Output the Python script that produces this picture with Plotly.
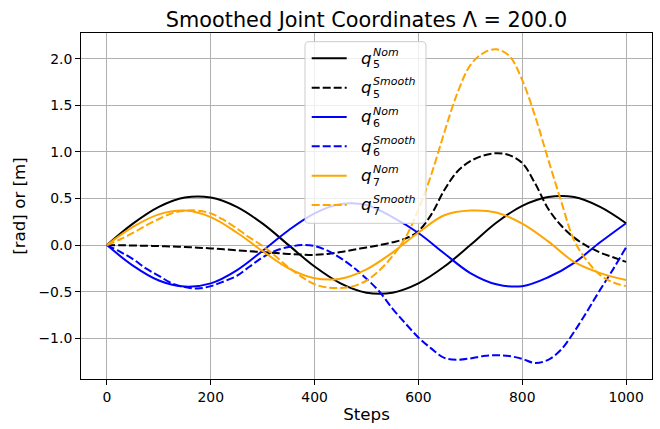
import plotly.graph_objects as go

# Step index of each sample (nominal curves on a coarse grid, smoothed ones on a finer grid)
steps = [0, 50, 100, 150, 200, 250, 300, 350, 400, 450, 500,
         550, 600, 650, 700, 750, 800, 850, 900, 950, 1000]
steps_fine = [0, 25, 50, 75, 100, 125, 150, 175, 200, 225, 250, 275, 300, 325, 350, 375,
              400, 425, 450, 475, 500, 525, 550, 575, 600, 625, 650, 675, 700, 725, 750,
              775, 800, 825, 850, 875, 900, 925, 950, 975, 1000]

# Joint 5
q5_nom = [0.0, 0.23, 0.41, 0.51, 0.51, 0.41, 0.23, 0.0, -0.23, -0.41, -0.51,
          -0.51, -0.41, -0.23, 0.0, 0.24, 0.42, 0.515, 0.515, 0.41, 0.235]
q5_smooth = [0.0, -0.001, -0.004, -0.007, -0.01, -0.015, -0.02, -0.027, -0.035, -0.045,
             -0.055, -0.065, -0.075, -0.085, -0.095, -0.102, -0.105, -0.095, -0.075, -0.05,
             -0.025, 0.0, 0.03, 0.07, 0.15, 0.33, 0.59, 0.79, 0.90, 0.96, 0.985,
             0.965, 0.88, 0.66, 0.39, 0.21, 0.08, -0.01, -0.08, -0.13, -0.18]

# Joint 6
q6_nom = [0.0, -0.22, -0.38, -0.445, -0.41, -0.27, -0.06, 0.16, 0.34, 0.44, 0.43,
          0.30, 0.13, -0.09, -0.30, -0.42, -0.44, -0.345, -0.19, 0.03, 0.235]
q6_smooth = [0.0, -0.07, -0.15, -0.25, -0.33, -0.41, -0.45, -0.465, -0.44, -0.39,
             -0.33, -0.23, -0.13, -0.06, -0.02, 0.0, -0.01, -0.06, -0.14, -0.24,
             -0.36, -0.50, -0.68, -0.84, -0.99, -1.11, -1.21, -1.23, -1.215, -1.19, -1.18,
             -1.19, -1.22, -1.265, -1.23, -1.12, -0.93, -0.71, -0.48, -0.26, -0.025]

# Joint 7
q7_nom = [0.0, 0.195, 0.33, 0.37, 0.30, 0.135, -0.065, -0.25, -0.355, -0.36, -0.26,
          -0.08, 0.135, 0.32, 0.37, 0.35, 0.23, 0.04, -0.18, -0.30, -0.375]
q7_smooth = [0.0, 0.06, 0.13, 0.21, 0.28, 0.34, 0.37, 0.37, 0.34, 0.27,
             0.18, 0.08, -0.01, -0.12, -0.24, -0.34, -0.42, -0.455, -0.46, -0.44,
             -0.38, -0.27, -0.12, 0.08, 0.38, 0.76, 1.21, 1.63, 1.93, 2.06, 2.10,
             2.03, 1.77, 1.38, 0.92, 0.47, 0.05, -0.17, -0.32, -0.40, -0.44]

x_ticks = [0, 200, 400, 600, 800, 1000]
y_ticks = [-1.0, -0.5, 0.0, 0.5, 1.0, 1.5, 2.0]

series = [
    (steps, q5_nom, "black", "solid", "5", "Nom"),
    (steps_fine, q5_smooth, "black", "8px,3px", "5", "Smooth"),
    (steps, q6_nom, "blue", "solid", "6", "Nom"),
    (steps_fine, q6_smooth, "blue", "8px,3px", "6", "Smooth"),
    (steps, q7_nom, "orange", "solid", "7", "Nom"),
    (steps_fine, q7_smooth, "orange", "8px,3px", "7", "Smooth"),
]

W, H = 660, 429
ML, MR, MT, MB = 81, 8, 33, 50
X0, X1 = ML, W - MR
Y0, Y1 = MT, H - MB
FONT = "DejaVu Sans"


def fx(p):
    return (p - X0) / (X1 - X0)


def fy(p):
    return (Y1 - p) / (Y1 - Y0)


fig = go.Figure()
for xs, vals, color, dash, idx, kind in series:
    fig.add_trace(go.Scatter(
        x=xs, y=vals, mode="lines", name=f"q{idx} {kind}",
        line=dict(color=color, width=2, dash=dash, shape="spline"),
        showlegend=False, hoverinfo="skip"))


# Legend frame with rounded corners
def rounded_box(xa, ya, xb, yb, r):
    pts = [("M", xa + r, ya), ("L", xb - r, ya), ("Q", xb, ya, xb, ya + r),
           ("L", xb, yb - r), ("Q", xb, yb, xb - r, yb), ("L", xa + r, yb),
           ("Q", xa, yb, xa, yb - r), ("L", xa, ya + r), ("Q", xa, ya, xa + r, ya)]
    out = []
    for p in pts:
        cmd, coords = p[0], p[1:]
        xy = []
        for i in range(0, len(coords), 2):
            xy.append(f"{fx(coords[i]):.5f},{fy(coords[i + 1]):.5f}")
        out.append(cmd + " " + " ".join(xy))
    return " ".join(out) + " Z"


shapes = [dict(type="path", xref="paper", yref="paper", layer="above",
               path=rounded_box(305, 41.7, 426, 223.3, 4),
               fillcolor="rgba(255,255,255,0.8)",
               line=dict(color="#cccccc", width=1))]
annotations = []
row0, row_gap = 58.3, 29.34
for i, (xs, vals, color, dash, idx, kind) in enumerate(series):
    yc = row0 + i * row_gap
    shapes.append(dict(type="line", xref="paper", yref="paper", layer="above",
                       x0=fx(311.7), x1=fx(346.7), y0=fy(yc), y1=fy(yc),
                       line=dict(color=color, width=2, dash=dash)))
    annotations.append(dict(text="<i>q</i>", x=fx(359.5), y=fy(yc - 0.8),
                            xref="paper", yref="paper", xanchor="left", yanchor="middle",
                            borderpad=0, showarrow=False,
                            font=dict(family=FONT, size=16.7, color="black")))
    annotations.append(dict(text=f"<i>{kind}</i>", x=fx(371.5), y=fy(yc - 5.8),
                            xref="paper", yref="paper", xanchor="left", yanchor="middle",
                            borderpad=0, showarrow=False,
                            font=dict(family=FONT, size=11, color="black")))
    annotations.append(dict(text=idx, x=fx(371.5), y=fy(yc + 6.6),
                            xref="paper", yref="paper", xanchor="left", yanchor="middle",
                            borderpad=0, showarrow=False,
                            font=dict(family=FONT, size=11, color="black")))

axis_common = dict(
    showgrid=True, gridcolor="#b0b0b0", gridwidth=0.8,
    showline=True, linecolor="black", linewidth=1, mirror=True,
    zeroline=False, ticks="outside", ticklen=5, tickwidth=1.1, tickcolor="black",
    tickfont=dict(family=FONT, size=13.9, color="black"),
)

fig.update_layout(
    width=W, height=H,
    margin=dict(l=ML, r=MR, t=MT, b=MB),
    paper_bgcolor="white", plot_bgcolor="white",
    title=dict(text="Smoothed Joint Coordinates Λ = 200.0",
               font=dict(family=FONT, size=20.8, color="black"),
               x=0.5, xref="paper", xanchor="center",
               y=1 - 19.5 / H, yref="container", yanchor="middle"),
    xaxis=dict(range=[-50, 1050], tickvals=x_ticks,
               title=dict(text="Steps", font=dict(family=FONT, size=16.7, color="black"),
                          standoff=4),
               **axis_common),
    yaxis=dict(range=[-1.436, 2.275], tickvals=y_ticks, tickformat=".1f",
               title=dict(text="[rad] or [m]", font=dict(family=FONT, size=16.7, color="black"),
                          standoff=8),
               **axis_common),
    shapes=shapes,
    annotations=annotations,
)

fig.write_html("out.html")
